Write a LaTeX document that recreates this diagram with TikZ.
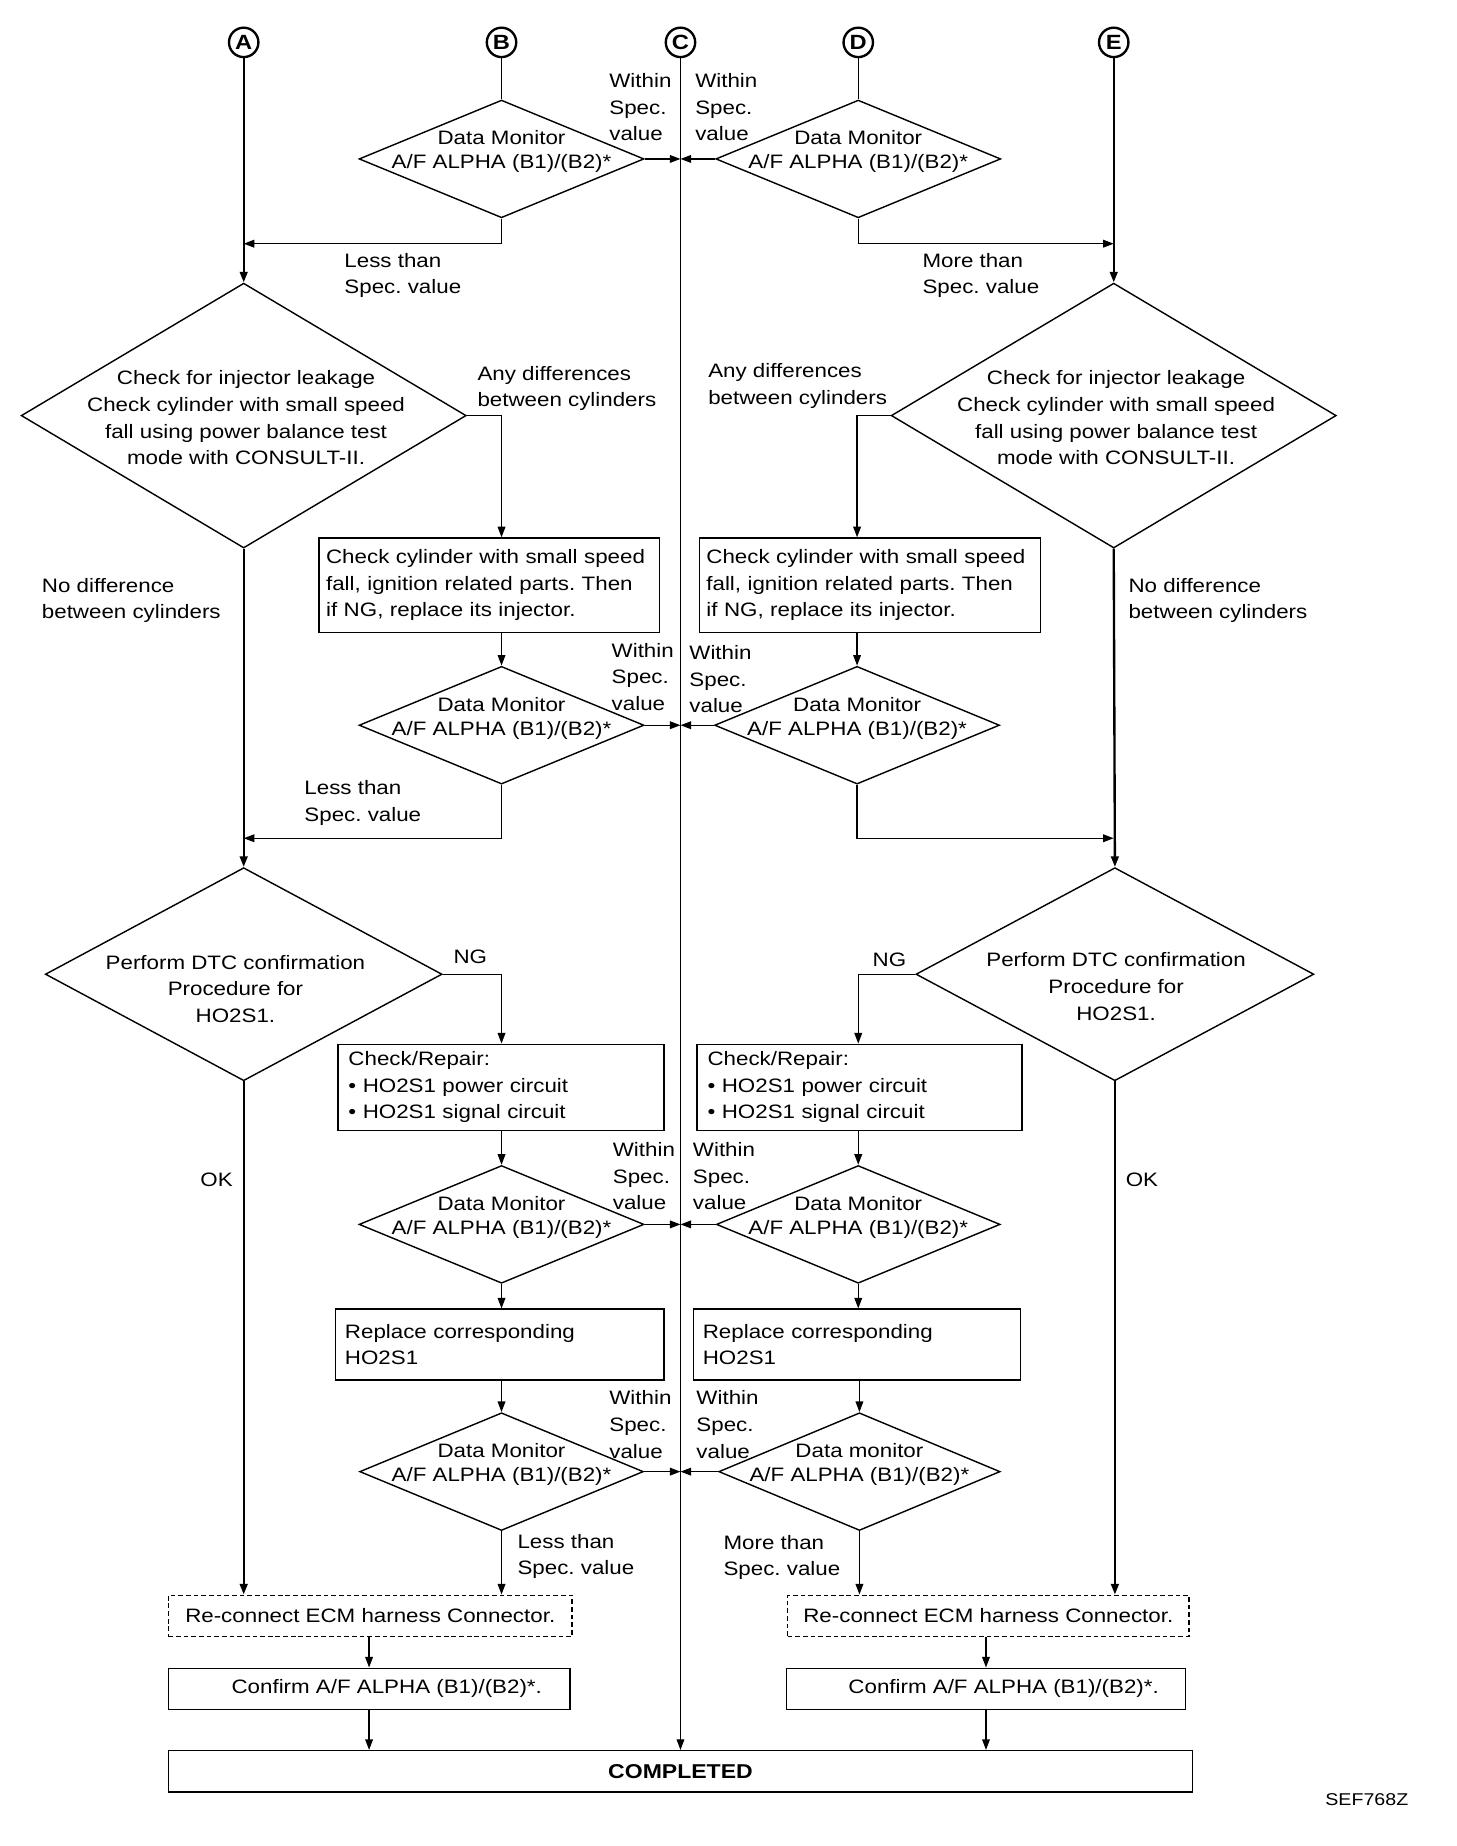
\documentclass[tikz,border=0pt]{standalone}
\usepackage{fontspec}
\setmainfont{Liberation Sans}[FakeStretch=1.15]
\usetikzlibrary{arrows.meta,shapes.geometric,calc}
\begin{document}
\frenchspacing
\begin{tikzpicture}[x=1pt,y=-1pt,
  font=\fontsize{16.5}{22.6}\selectfont,
  line width=1.2pt,
  arr/.style={-{Triangle[length=9pt,width=6.5pt]}},
  main/.style={line width=2pt},
  dia/.style={draw, shape=diamond, inner sep=0pt, line width=1.2pt},
  box/.style={draw, rectangle, inner sep=0pt, line width=1.2pt},
  tbox/.style={draw, rectangle, inner ysep=0pt, align=left, line width=1.2pt},
  lbl/.style={anchor=west, align=left, inner sep=0pt},
  dtxt/.style={align=center, inner sep=0pt},
  mtxt/.style={align=center, inner sep=0pt, font=\fontsize{16.5}{20.5}\selectfont},
  circ/.style={draw, circle, line width=2pt, minimum size=25pt, inner sep=0pt,
    font=\fontsize{17.5}{17.5}\selectfont\bfseries}]
\fill[white] (0,0) rectangle (1237,1568);
\useasboundingbox (0,0) rectangle (1237,1568);

% connectors' letters
\node[circ] (A) at (207,36) {A};
\node[circ] (B) at (426,36) {B};
\node[circ] (C) at (578,36) {C};
\node[circ] (D) at (729,36) {D};
\node[circ] (E) at (946,36) {E};

% row 1 diamonds
\node[dia, minimum width=242pt, minimum height=100pt] (dB1) at (426,135) {};
\node[mtxt] (dB1t) at (426,129) {Data Monitor\\A/F ALPHA (B1)/(B2)*};
\node[dia, minimum width=242pt, minimum height=100pt] (dD1) at (729,135) {};
\node[mtxt] (dD1t) at (729,129) {Data Monitor\\A/F ALPHA (B1)/(B2)*};

\coordinate (jA1) at (207,207);
\coordinate (jE1) at (946,207);
\coordinate (jA2) at (207,712);
\coordinate (jE2) at (946,712);

% big diamonds
\node[dia, minimum width=378pt, minimum height=225pt] (bigA) at (207,353) {};
\node[dtxt] (bigAt) at (209,355) {Check for injector leakage\\Check cylinder with small speed\\fall using power balance test\\mode with CONSULT-II.};
\node[dia, minimum width=378pt, minimum height=225pt] (bigE) at (946,353) {};
\node[dtxt] (bigEt) at (948,355) {Check for injector leakage\\Check cylinder with small speed\\fall using power balance test\\mode with CONSULT-II.};

% boxes row 1
\node[tbox, minimum width=289pt, minimum height=80pt, text width=277pt, inner xsep=6pt] (boxL1) at (415.5,497) {Check cylinder with small speed\\fall, ignition related parts. Then\\if NG, replace its injector.};
\node[tbox, minimum width=290pt, minimum height=80pt, text width=278pt, inner xsep=6pt] (boxR1) at (739,497) {Check cylinder with small speed\\fall, ignition related parts. Then\\if NG, replace its injector.};

% row 2 diamonds
\node[dia, minimum width=242pt, minimum height=100pt] (dB2) at (426,616) {};
\node[mtxt] (dB2t) at (426,610) {Data Monitor\\A/F ALPHA (B1)/(B2)*};
\node[dia, minimum width=242pt, minimum height=100pt] (dD2) at (728,616) {};
\node[mtxt] (dD2t) at (728,610) {Data Monitor\\A/F ALPHA (B1)/(B2)*};

% DTC diamonds
\node[dia, minimum width=337pt, minimum height=181pt] (dtcA) at (207,827.5) {};
\node[dtxt] (dtcAt) at (200,840) {Perform DTC confirmation\\Procedure for\\HO2S1.};
\node[dia, minimum width=338pt, minimum height=181pt] (dtcE) at (947,827.5) {};
\node[dtxt] (dtcEt) at (948,838) {Perform DTC confirmation\\Procedure for\\HO2S1.};

% boxes row 2
\node[tbox, minimum width=277pt, minimum height=73pt, text width=259pt, inner xsep=9pt] (boxL2) at (425.5,923.5) {Check/Repair:\\\textbullet\ HO2S1 power circuit\\\textbullet\ HO2S1 signal circuit};
\node[tbox, minimum width=276pt, minimum height=73pt, text width=258pt, inner xsep=9pt] (boxR2) at (730,923.5) {Check/Repair:\\\textbullet\ HO2S1 power circuit\\\textbullet\ HO2S1 signal circuit};

% row 4 diamonds
\node[dia, minimum width=242pt, minimum height=100pt] (dB4) at (426,1040) {};
\node[mtxt] (dB4t) at (426,1034) {Data Monitor\\A/F ALPHA (B1)/(B2)*};
\node[dia, minimum width=241pt, minimum height=100pt] (dD4) at (729,1040) {};
\node[mtxt] (dD4t) at (729,1034) {Data Monitor\\A/F ALPHA (B1)/(B2)*};

% boxes row 3
\node[tbox, minimum width=279pt, minimum height=60pt, text width=263pt, inner xsep=8pt] (boxL3) at (424.5,1142) {Replace corresponding\\HO2S1};
\node[tbox, minimum width=278pt, minimum height=60pt, text width=262pt, inner xsep=8pt] (boxR3) at (728,1142) {Replace corresponding\\HO2S1};

% row 5 diamonds
\node[dia, minimum width=241pt, minimum height=100pt] (dB5) at (426,1250) {};
\node[mtxt] (dB5t) at (426,1244) {Data Monitor\\A/F ALPHA (B1)/(B2)*};
\node[dia, minimum width=239pt, minimum height=100pt] (dD5) at (730,1250) {};
\node[mtxt] (dD5t) at (730,1244) {Data monitor\\A/F ALPHA (B1)/(B2)*};

% bottom boxes
\node[box, dashed, dash pattern=on 4pt off 2.5pt, minimum width=343pt, minimum height=35pt] (recL) at (314.5,1372.5) {Re-connect ECM harness Connector.};
\node[box, dashed, dash pattern=on 4pt off 2.5pt, minimum width=341pt, minimum height=35pt] (recR) at (839.5,1372.5) {Re-connect ECM harness Connector.};
\node[box, minimum width=341pt, minimum height=35pt] (confL) at (313.5,1434.5) {\hspace*{30pt}Confirm A/F ALPHA (B1)/(B2)*.};
\node[box, minimum width=339pt, minimum height=35pt] (confR) at (837.5,1434.5) {\hspace*{30pt}Confirm A/F ALPHA (B1)/(B2)*.};
\node[box, minimum width=870pt, minimum height=35pt, font=\fontsize{17}{22.6}\selectfont\bfseries] (done) at (578,1504.5) {COMPLETED};

% ---------- connectors ----------
\draw[arr, main] (A) -- (bigA.north);
\draw (B) -- (dB1.north);
\draw[arr, line width=1pt] (C) -- (C |- done.north);
\draw (D) -- (dD1.north);
\draw[arr, main] (E) -- (bigE.north);

\draw[arr] (dB1.east) -- (dB1.east -| C);
\draw[arr] (dD1.west) -- (dD1.west -| C);
\draw[arr] (dB1.south) |- (jA1);
\draw[arr] (dD1.south) |- (jE1);

\draw[arr] (bigA.east) -| (dB2.north |- boxL1.north);
\draw[arr] (bigE.west) -| (dD2.north |- boxR1.north);
\draw[arr] (dB2.north |- boxL1.south) -- (dB2.north);
\draw[arr] (dD2.north |- boxR1.south) -- (dD2.north);
\draw[arr] (dB2.east) -- (dB2.east -| C);
\draw[arr] (dD2.west) -- (dD2.west -| C);
\draw[arr] (dB2.south) |- (jA2);
\draw[arr] (dD2.south) |- (jE2);

\draw[arr, main] (bigA.south) -- (dtcA.north);
\draw[arr, main] (bigE.south) -- (dtcE.north);

\draw[arr] (dtcA.east) -| (dB4.north |- boxL2.north);
\draw[arr] (dtcE.west) -| (dD4.north |- boxR2.north);
\draw[arr] (dB4.north |- boxL2.south) -- (dB4.north);
\draw[arr] (dD4.north |- boxR2.south) -- (dD4.north);
\draw[arr] (dB4.east) -- (dB4.east -| C);
\draw[arr] (dD4.west) -- (dD4.west -| C);
\draw[arr] (dB4.south) -- (dB4.south |- boxL3.north);
\draw[arr] (dD4.south) -- (dD4.south |- boxR3.north);

\draw[arr] (dB5.north |- boxL3.south) -- (dB5.north);
\draw[arr] (dD5.north |- boxR3.south) -- (dD5.north);
\draw[arr] (dB5.east) -- (dB5.east -| C);
\draw[arr] (dD5.west) -- (dD5.west -| C);

\draw[arr, main] (dtcA.south) -- (dtcA.south |- recL.north);
\draw[arr, main] (dtcE.south) -- (dtcE.south |- recR.north);
\draw[arr] (dB5.south) -- (dB5.south |- recL.north);
\draw[arr] (dD5.south) -- (dD5.south |- recR.north);

\draw[arr] (confL.north |- recL.south) -- (confL.north);
\draw[arr] (confR.north |- recR.south) -- (confR.north);
\draw[arr] (confL.south) -- (confL.south |- done.north);
\draw[arr] (confR.south) -- (confR.south |- done.north);

% ---------- labels ----------
\node[lbl] (w1l) at (517,91) {Within\\Spec.\\value};
\node[lbl] (w1r) at (590,91) {Within\\Spec.\\value};
\node[lbl] (w2l) at (519,575) {Within\\Spec.\\value};
\node[lbl] (w2r) at (585,577) {Within\\Spec.\\value};
\node[lbl] (w4l) at (520,999) {Within\\Spec.\\value};
\node[lbl] (w4r) at (588,999) {Within\\Spec.\\value};
\node[lbl] (w5l) at (517,1210) {Within\\Spec.\\value};
\node[lbl] (w5r) at (591,1210) {Within\\Spec.\\value};

\node[lbl] (lt1) at (292,234) {Less than\\Spec. value};
\node[lbl] (mt1) at (783,234) {More than\\Spec. value};
\node[lbl] (lt2) at (258,682) {Less than\\Spec. value};
\node[lbl] (lt5) at (439,1322) {Less than\\Spec. value};
\node[lbl] (mt5) at (614,1323) {More than\\Spec. value};

\node[lbl] (adl) at (405,330) {Any differences\\between cylinders};
\node[lbl] (adr) at (601,328) {Any differences\\between cylinders};
\node[lbl] (ndl) at (35,510) {No difference\\between cylinders};
\node[lbl] (ndr) at (958,510) {No difference\\between cylinders};

\node[dtxt] (ngl) at (399.5,813) {NG};
\node[dtxt] (ngr) at (755.5,815) {NG};
\node[dtxt] (okl) at (184,1002) {OK};
\node[dtxt] (okr) at (970,1002) {OK};

\node[dtxt, font=\fontsize{14.5}{16}\selectfont] (ref) at (1161,1529) {SEF768Z};
\end{tikzpicture}
\end{document}
